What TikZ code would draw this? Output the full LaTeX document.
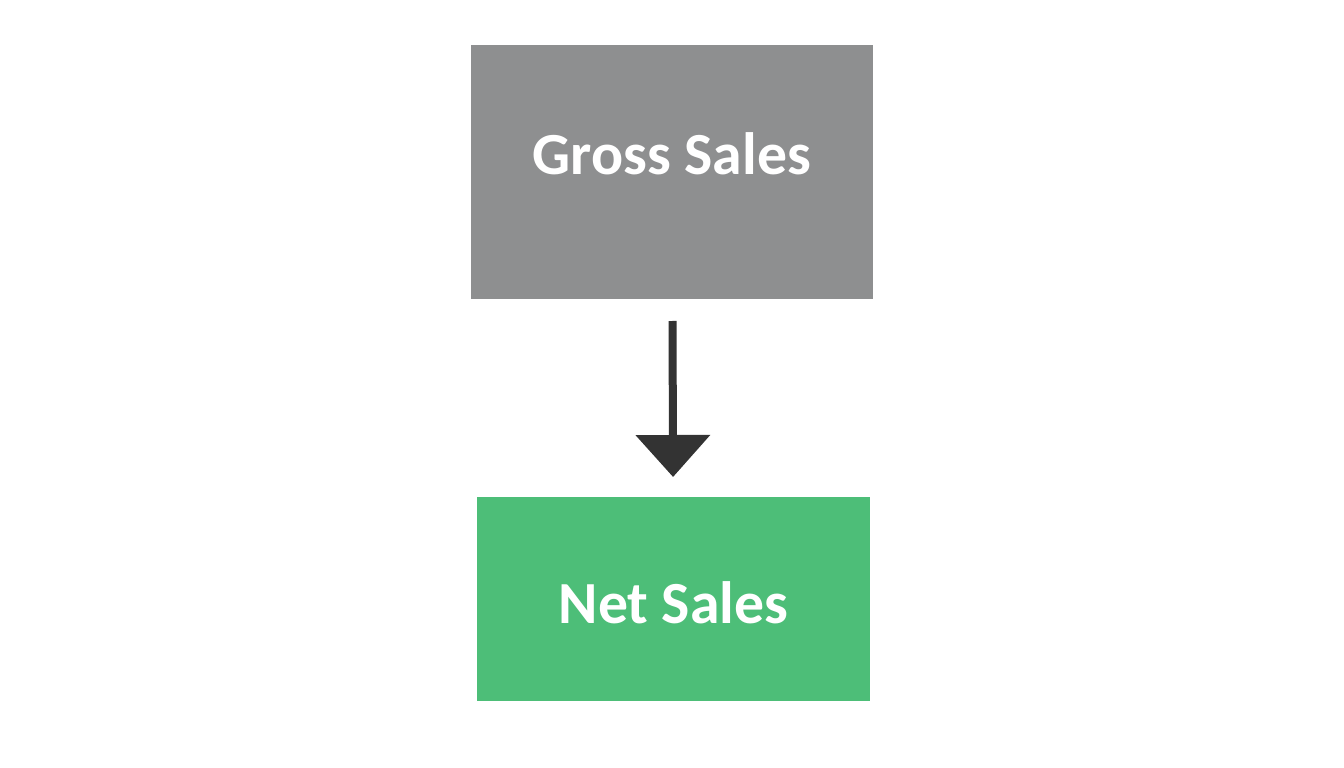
\documentclass[tikz,border=0pt]{standalone}
\usepackage{fontspec}
\setmainfont{Carlito}
\usetikzlibrary{arrows.meta,positioning}

\begin{document}
\begin{tikzpicture}
  % Colors
  \definecolor{grosscolor}{HTML}{8E8F90}
  \definecolor{netcolor}{HTML}{4DBE78}
  \definecolor{arrowcolor}{HTML}{333333}

  % Styles
  \tikzstyle{salesbox}=[inner sep=0pt,outer sep=0pt]
  \tikzstyle{box text}=[text=white,font=\fontsize{17}{19}\selectfont\bfseries]
  \tikzstyle{flow line}=[draw=arrowcolor,line width=0.08cm,
    -{Triangle[width=0.73cm,length=0.42cm]}]

  % The graphic
  \useasboundingbox (0,0) rectangle (13.44,-7.68);

  \node[salesbox,fill=grosscolor,minimum width=4.02cm,minimum height=2.54cm]
    (gross) at (6.72,-1.72) {};
  \node[salesbox,fill=netcolor,minimum width=3.93cm,minimum height=2.04cm,
    below=1.98cm of gross,xshift=0.015cm] (net) {};

  \node[box text] (grosstext) at ([yshift=0.18cm]gross.center) {Gross Sales};
  \node[box text] (nettext) at ([yshift=-0.04cm]net.center) {Net Sales};

  \draw[flow line,shorten <=0.22cm,shorten >=0.20cm] (gross) -- (net);

\end{tikzpicture}
\end{document}
